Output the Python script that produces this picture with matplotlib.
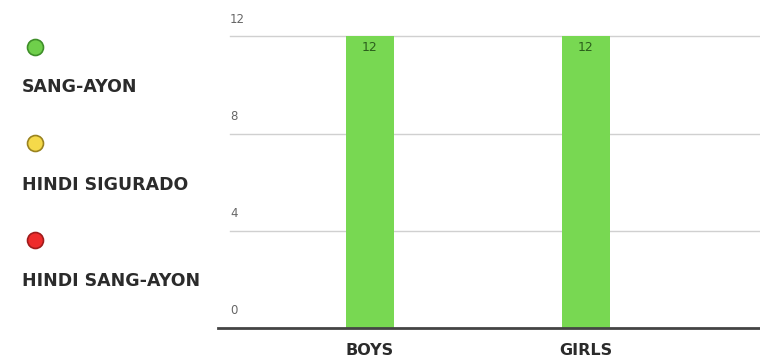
import matplotlib
matplotlib.use("Agg")
import matplotlib.pyplot as plt
import matplotlib.transforms as mtransforms
from matplotlib.lines import Line2D

# data
categories = ["BOYS", "GIRLS"]
values = [12, 12]
y_ticks = [0, 4, 8, 12]
legend_labels = ["SANG-AYON", "HINDI SIGURADO", "HINDI SANG-AYON"]
legend_colors = ["#6fcf4b", "#f5d94a", "#ee2b2b"]
legend_edges = ["#3f8f2a", "#9a8320", "#a01c1c"]

bar_color = "#78d852"
text_dark = "#2b2b2b"
plt.rcParams["font.family"] = "DejaVu Sans"

fig = plt.figure(figsize=(7.6, 3.61), dpi=100)
ax = fig.add_axes([218 / 760, 33 / 361, 542 / 760, 328 / 361])

x = list(range(len(categories)))
ax.bar(x, values, width=0.222, color=bar_color, zorder=2)
ax.set_xlim(-0.704, 1.806)
ax.set_ylim(0, 13.5)

# gridlines and labels sitting above them
off = mtransforms.ScaledTranslation(0, 17 / 100, fig.dpi_scale_trans)
trans = mtransforms.blended_transform_factory(ax.transAxes, ax.transData) + off
for t in y_ticks:
    if t > 0:
        ax.axhline(t, xmin=0.022, xmax=1, color="#d0d0d0", lw=1, zorder=1)
    ax.text(0.022, t, str(t), transform=trans, ha="left", va="center",
            fontsize=8.5, color="#666666")
ax.axhline(0, color="#444444", lw=2, zorder=3, clip_on=False)

# value labels inside the bar tops
for xi, v in zip(x, values):
    ax.annotate(str(v), (xi, v), xytext=(0, -3), textcoords="offset points",
                ha="center", va="top", fontsize=9, color="#2b5e1c")

ax.set_xticks(x)
ax.set_xticklabels(categories, fontsize=11.5, fontweight="bold", color=text_dark)
ax.tick_params(axis="x", length=0, pad=11)
ax.set_yticks([])
for s in ax.spines.values():
    s.set_visible(False)

# legend on the left
circle_y = [0.870, 0.604, 0.335]
label_y = [0.759, 0.488, 0.222]
for lab, c, ec, cy, ly in zip(legend_labels, legend_colors, legend_edges, circle_y, label_y):
    fig.add_artist(Line2D([0.046], [cy], marker="o", ms=11.5, color=c,
                          markeredgecolor=ec, markeredgewidth=1.2,
                          transform=fig.transFigure))
    fig.text(0.029, ly, lab, ha="left", va="center", fontsize=12.5,
             fontweight="bold", color=text_dark)

fig.savefig("out.png", dpi=100)
